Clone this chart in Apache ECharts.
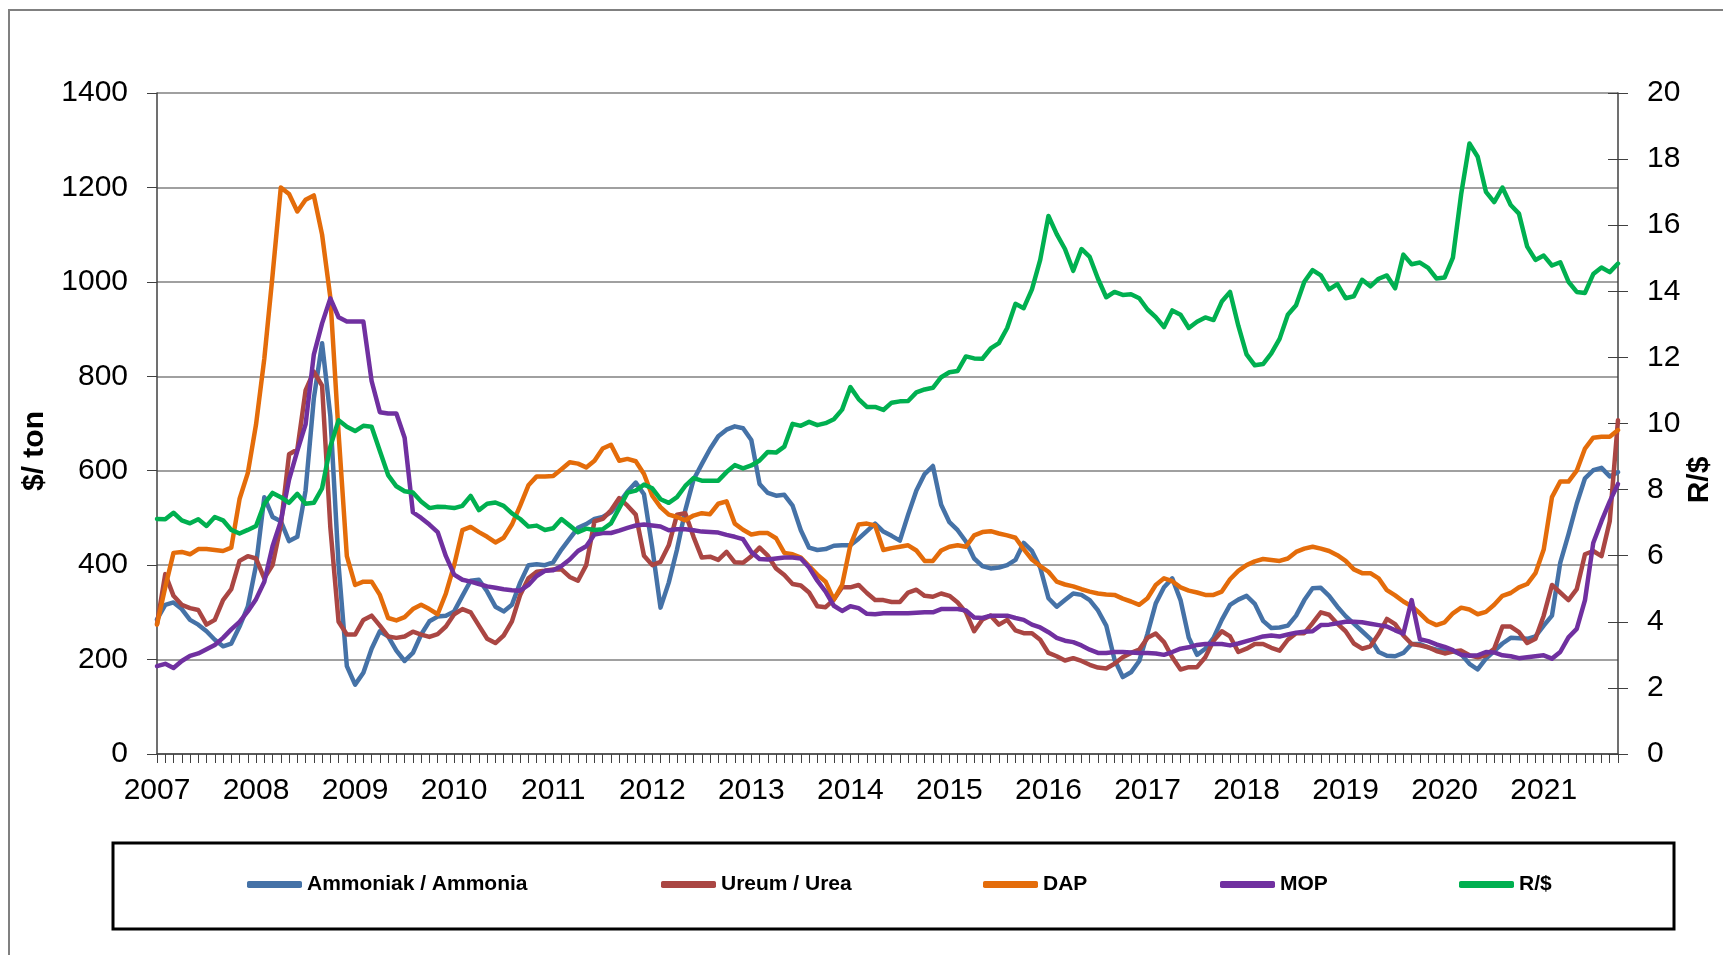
<!DOCTYPE html>
<html>
<head>
<meta charset="utf-8">
<title>Fertilizer prices and R/$</title>
<script src="https://cdn.jsdelivr.net/npm/echarts@6/dist/echarts.min.js"></script>
<style>
  html, body { margin: 0; padding: 0; background: #fff; }
  #chart { width: 1723px; height: 955px; }
</style>
</head>
<body>
<div id="chart"></div>
<script>
// monthly data, Jan 2007 - Oct 2021
const years = ['2007', '2008', '2009', '2010', '2011', '2012', '2013', '2014', '2015', '2016', '2017', '2018', '2019', '2020', '2021']
const lastYearMonths = 10

const ammonia = [
  285, 316, 321, 307, 284, 274, 260, 242, 228, 234, 270, 312,
  400, 544, 502, 493, 451, 460, 558, 753, 870, 716, 400, 186,
  147, 172, 223, 260, 249, 219, 197, 214, 253, 281, 291, 293,
  302, 335, 367, 369, 344, 312, 302, 316, 363, 400, 402, 400,
  406, 433, 456, 479, 487, 498, 502, 512, 532, 556, 575, 550,
  437, 310, 363, 433, 516, 581, 614, 646, 673, 687, 694, 690,
  665, 572, 553, 547, 549, 526, 474, 437, 432, 434, 441, 442,
  442, 456, 472, 488, 471, 462, 452, 507, 558, 593, 610, 528,
  491, 474, 450, 414, 398, 393, 395, 400, 411, 447, 430, 395,
  330, 312, 326, 340, 337, 326, 304, 272, 200, 163, 173, 197,
  255, 319, 353, 372, 326, 246, 210, 223, 246, 284, 316, 327,
  335, 318, 282, 267, 268, 272, 293, 326, 351, 352, 335, 312,
  292, 276, 260, 244, 216, 208, 207, 214, 233, 233, 226, 221,
  221, 218, 211, 191, 179, 202, 218, 234, 246, 245, 244, 249,
  272, 293, 405, 465, 530, 584, 601, 606, 588, 597
]

const urea = [
  275, 381, 335, 316, 309, 305, 274, 284, 326, 349, 409, 419,
  414, 372, 400, 484, 635, 645, 770, 810, 780, 480, 280, 253,
  253, 284, 293, 272, 249, 246, 249, 259, 253, 248, 254, 270,
  296, 307, 300, 272, 244, 235, 251, 281, 337, 372, 386, 388,
  391, 391, 375, 367, 400, 493, 498, 516, 542, 526, 507, 420,
  400, 407, 442, 507, 510, 460, 416, 418, 411, 428, 406, 405,
  419, 437, 420, 393, 379, 360, 357, 342, 313, 311, 327, 353,
  353, 358, 341, 326, 326, 322, 322, 342, 348, 335, 333, 340,
  335, 321, 300, 260, 285, 293, 274, 284, 262, 256, 256, 242,
  214, 207, 198, 203, 197, 189, 183, 181, 191, 205, 214, 221,
  246, 255, 237, 205, 179, 184, 184, 205, 240, 260, 249, 216,
  223, 233, 233, 225, 219, 242, 256, 256, 277, 300, 295, 276,
  260, 234, 223, 228, 254, 286, 275, 251, 233, 230, 226, 218,
  213, 217, 219, 209, 205, 209, 223, 270, 270, 258, 235, 244,
  293, 358, 342, 326, 349, 423, 430, 419, 493, 707
]

const dap = [
  274, 353, 426, 428, 423, 434, 434, 432, 430, 437, 540, 595,
  698, 837, 1014, 1200, 1186, 1149, 1174, 1183, 1100, 967, 679, 419,
  358, 365, 365, 337, 288, 283, 290, 307, 316, 307, 296, 340,
  400, 474, 481, 470, 460, 448, 458, 486, 526, 569, 588, 588,
  589, 603, 618, 615, 607, 621, 647, 655, 621, 625, 620, 593,
  547, 523, 507, 502, 495, 505, 510, 508, 530, 535, 488, 475,
  465, 468, 468, 457, 426, 423, 416, 398, 380, 365, 327, 358,
  442, 486, 488, 484, 432, 436, 439, 442, 431, 409, 409, 431,
  439, 442, 439, 463, 470, 472, 467, 463, 458, 434, 412, 398,
  386, 365, 359, 355, 349, 344, 340, 338, 337, 329, 323, 316,
  330, 358, 372, 366, 353, 346, 342, 337, 337, 344, 370, 388,
  400, 408, 413, 411, 409, 414, 428, 435, 439, 435, 430, 421,
  409, 391, 383, 383, 372, 347, 336, 323, 313, 298, 281, 273,
  279, 298, 310, 306, 296, 301, 316, 335, 341, 353, 360, 383,
  433, 544, 577, 577, 600, 647, 670, 672, 672, 686
]

const mop = [
  186, 191, 182, 197, 208, 213, 222, 231, 246, 264, 280, 302,
  328, 365, 440, 493, 581, 642, 698, 846, 912, 965, 925, 916,
  916, 916, 790, 724, 721, 721, 670, 512, 500, 486, 470, 419,
  380, 369, 365, 360, 355, 352, 349, 347, 346, 358, 377, 388,
  389, 398, 412, 430, 440, 465, 468, 468, 473, 479, 484, 486,
  484, 482, 474, 476, 476, 474, 471, 470, 469, 464, 460, 455,
  428, 413, 412, 414, 416, 416, 414, 395, 367, 344, 314, 303,
  313, 309, 297, 296, 298, 298, 298, 298, 299, 300, 300, 307,
  307, 307, 304, 289, 288, 293, 293, 293, 288, 284, 274, 268,
  258, 246, 240, 237, 230, 221, 214, 214, 216, 216, 215, 214,
  214, 213, 210, 216, 223, 226, 231, 233, 233, 233, 230, 234,
  239, 244, 249, 251, 249, 253, 257, 259, 260, 273, 274, 277,
  280, 280, 279, 276, 273, 270, 262, 255, 326, 243, 239, 232,
  227, 220, 210, 208, 209, 216, 215, 209, 207, 203, 205, 207,
  209, 202, 216, 247, 265, 326, 447, 493, 535, 572
]

const randDollar = [
  7.11, 7.10, 7.30, 7.07, 6.98, 7.10, 6.90, 7.17, 7.07, 6.78, 6.67, 6.78,
  6.90, 7.57, 7.90, 7.77, 7.60, 7.87, 7.57, 7.60, 8.04, 9.30, 10.10, 9.90,
  9.77, 9.93, 9.90, 9.17, 8.44, 8.10, 7.95, 7.91, 7.64, 7.44, 7.48, 7.47,
  7.44, 7.51, 7.81, 7.38, 7.57, 7.61, 7.51, 7.28, 7.11, 6.88, 6.91, 6.78,
  6.83, 7.11, 6.91, 6.71, 6.82, 6.78, 6.80, 6.98, 7.44, 7.91, 7.97, 8.15,
  8.04, 7.71, 7.60, 7.77, 8.11, 8.35, 8.27, 8.27, 8.27, 8.53, 8.74, 8.64,
  8.73, 8.88, 9.14, 9.12, 9.30, 9.99, 9.93, 10.05, 9.95, 10.01, 10.13, 10.42,
  11.10, 10.74, 10.50, 10.50, 10.41, 10.63, 10.67, 10.68, 10.94, 11.03, 11.08, 11.40,
  11.55, 11.59, 12.03, 11.97, 11.96, 12.27, 12.43, 12.89, 13.62, 13.49, 14.06, 14.95,
  16.28, 15.73, 15.28, 14.62, 15.28, 15.04, 14.38, 13.82, 13.98, 13.89, 13.91, 13.79,
  13.45, 13.22, 12.92, 13.42, 13.29, 12.89, 13.08, 13.21, 13.13, 13.69, 13.98, 12.96,
  12.09, 11.76, 11.80, 12.12, 12.56, 13.29, 13.58, 14.29, 14.64, 14.48, 14.06, 14.22,
  13.79, 13.85, 14.35, 14.15, 14.38, 14.48, 14.09, 15.11, 14.82, 14.87, 14.71, 14.39,
  14.42, 15.02, 16.94, 18.47, 18.07, 17.01, 16.70, 17.14, 16.61, 16.35, 15.35, 14.95,
  15.08, 14.78, 14.88, 14.29, 13.98, 13.95, 14.52, 14.72, 14.58, 14.84
]

// month categories built from the year list
const months = []
years.forEach((y, k) => {
  const n = k === years.length - 1 ? lastYearMonths : 12
  for (let m = 1; m <= n; m++) months.push(y + '-' + (m < 10 ? '0' + m : m))
})

const FONT = '"Liberation Sans", Arial, sans-serif'

const lineSeries = (name, data, color, yAxisIndex) => ({
  name,
  type: 'line',
  data,
  yAxisIndex,
  showSymbol: false,
  symbol: 'none',
  smooth: false,
  animation: false,
  itemStyle: { color },
  lineStyle: { color, width: 4.5, cap: 'round', join: 'round' }
})

const legendAt = (name, left) => ({
  data: [name],
  left,
  top: 874,
  padding: 0,
  icon: 'roundRect',
  itemWidth: 55,
  itemHeight: 7,
  textStyle: { fontFamily: FONT, fontSize: 21, fontWeight: 'bold', color: '#000' }
})

const chart = echarts.init(document.getElementById('chart'), null, { renderer: 'canvas' })

chart.setOption({
  backgroundColor: '#fff',
  animation: false,
  grid: { left: 157, right: 105, top: 93, bottom: 201, containLabel: false },
  xAxis: {
    type: 'category',
    data: months,
    boundaryGap: false,
    axisLine: { lineStyle: { color: '#404040', width: 1.5 } },
    axisTick: { show: true, interval: 0, length: 9, lineStyle: { color: '#404040', width: 1 } },
    axisLabel: {
      interval: i => i % 12 === 0,
      formatter: v => v.slice(0, 4),
      margin: 22,
      fontFamily: FONT,
      fontSize: 30,
      color: '#000'
    },
    splitLine: { show: false }
  },
  yAxis: [
    {
      type: 'value',
      min: 0, max: 1400, interval: 200,
      position: 'left',
      axisLine: { show: true, lineStyle: { color: '#404040', width: 1.5 } },
      axisTick: { show: true, length: 10, lineStyle: { color: '#404040' } },
      axisLabel: { margin: 29, fontFamily: FONT, fontSize: 30, color: '#000', formatter: v => String(v) },
      splitLine: { show: true, lineStyle: { color: '#808080', width: 1.5 } }
    },
    {
      type: 'value',
      min: 0, max: 20, interval: 2,
      position: 'right',
      axisLine: { show: true, lineStyle: { color: '#404040', width: 1.5 } },
      axisTick: { show: true, length: 10, lineStyle: { color: '#404040' } },
      axisLabel: { margin: 29, fontFamily: FONT, fontSize: 30, color: '#000', formatter: v => String(v) },
      splitLine: { show: false }
    },
    {
      // inner half of the crossing ticks on the right axis
      type: 'value',
      min: 0, max: 20, interval: 2,
      position: 'right',
      axisLine: { show: false },
      axisTick: { show: true, inside: true, length: 10, lineStyle: { color: '#404040' } },
      axisLabel: { show: false },
      splitLine: { show: false }
    }
  ],
  legend: [
    legendAt('Ammoniak / Ammonia', 247),
    legendAt('Ureum / Urea', 661),
    legendAt('DAP', 983),
    legendAt('MOP', 1220),
    legendAt('R/$', 1459)
  ],
  graphic: [
    {
      type: 'rect', silent: true, z: -1,
      shape: { x: 9, y: 10, width: 1800, height: 1000 },
      style: { fill: 'none', stroke: '#808080', lineWidth: 2 }
    },
    {
      type: 'rect', silent: true,
      shape: { x: 113, y: 843, width: 1561, height: 86 },
      style: { fill: 'none', stroke: '#000', lineWidth: 3 }
    },
    {
      type: 'text', silent: true,
      x: 35, y: 451, rotation: Math.PI / 2,
      style: { text: '$/ ton', fontFamily: FONT, fontSize: 30, fontWeight: 'bold', fill: '#000', align: 'center', verticalAlign: 'middle' }
    },
    {
      type: 'text', silent: true,
      x: 1700, y: 480, rotation: Math.PI / 2,
      style: { text: 'R/$', fontFamily: FONT, fontSize: 30, fontWeight: 'bold', fill: '#000', align: 'center', verticalAlign: 'middle' }
    }
  ],
  series: [
    lineSeries('Ammoniak / Ammonia', ammonia, '#4572A7', 0),
    lineSeries('Ureum / Urea', urea, '#AA4643', 0),
    lineSeries('DAP', dap, '#E46C0A', 0),
    lineSeries('MOP', mop, '#7030A0', 0),
    lineSeries('R/$', randDollar, '#00B050', 1)
  ]
})
</script>
</body>
</html>
